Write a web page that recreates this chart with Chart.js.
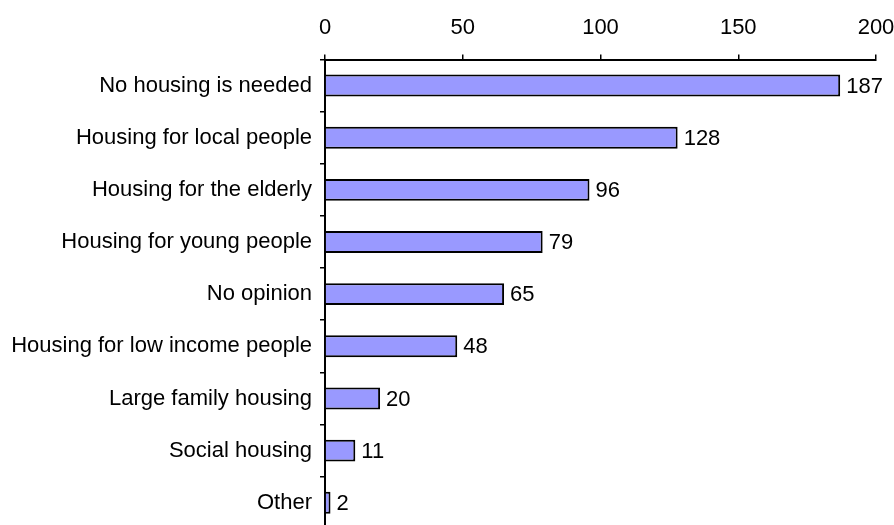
<!DOCTYPE html>
<html>
<head>
<meta charset="utf-8">
<script src="https://cdn.jsdelivr.net/npm/chart.js@4/dist/chart.umd.min.js"></script>
<style>
  html, body { margin: 0; padding: 0; background: #ffffff; overflow: hidden; }
  #wrap { position: absolute; left: 0; top: 0; width: 894px; height: 550px; }
</style>
</head>
<body>
<div id="wrap"><canvas id="c"></canvas></div>
<script>
const categories = [
  "No housing is needed",
  "Housing for local people",
  "Housing for the elderly",
  "Housing for young people",
  "No opinion",
  "Housing for low income people",
  "Large family housing",
  "Social housing",
  "Other"
];
const responses = [187, 128, 96, 79, 65, 48, 20, 11, 2];
const xTicks = [0, 50, 100, 150, 200];

const FONT = { family: "'Liberation Sans', Arial, sans-serif", size: 22 };

const valueLabels = {
  id: 'valueLabels',
  afterDatasetsDraw(chart) {
    const ctx = chart.ctx;
    const meta = chart.getDatasetMeta(0);
    ctx.save();
    ctx.font = FONT.size + "px " + FONT.family;
    ctx.fillStyle = '#000000';
    ctx.textAlign = 'left';
    ctx.textBaseline = 'middle';
    meta.data.forEach((bar, i) => {
      ctx.fillText(String(responses[i]), bar.x + 6, bar.y + 1);
    });
    ctx.restore();
  }
};

new Chart(document.getElementById('c'), {
  type: 'bar',
  data: {
    labels: categories,
    datasets: [{
      data: responses,
      backgroundColor: '#9999FF',
      borderColor: '#000000',
      borderWidth: 2,
      borderSkipped: 'start',
      barPercentage: 0.42,
      categoryPercentage: 1.0
    }]
  },
  options: {
    indexAxis: 'y',
    responsive: true,
    maintainAspectRatio: false,
    animation: false,
    layout: { padding: { left: 0, right: 0, top: 0, bottom: 0 } },
    plugins: { legend: { display: false }, tooltip: { enabled: false } },
    scales: {
      x: {
        position: 'top',
        min: 0,
        max: 200,
        afterBuildTicks(scale) { scale.ticks = xTicks.map(v => ({ value: v })); },
        afterFit(scale) { scale.height = 59.5; scale.paddingRight = 18; scale.paddingLeft = 0; },
        ticks: { color: '#000000', font: FONT, padding: 13, maxRotation: 0 },
        grid: { drawOnChartArea: false, tickLength: 5, color: '#000000', lineWidth: 1.5 },
        border: { display: true, color: '#000000', width: 2 }
      },
      y: {
        afterFit(scale) { scale.width = 325; },
        ticks: { color: '#000000', font: FONT, padding: 8 },
        grid: { drawOnChartArea: false, tickLength: 5, color: '#000000', lineWidth: 1.5, offset: true },
        border: { display: true, color: '#000000', width: 2 }
      }
    }
  },
  plugins: [valueLabels]
});
</script>
</body>
</html>
